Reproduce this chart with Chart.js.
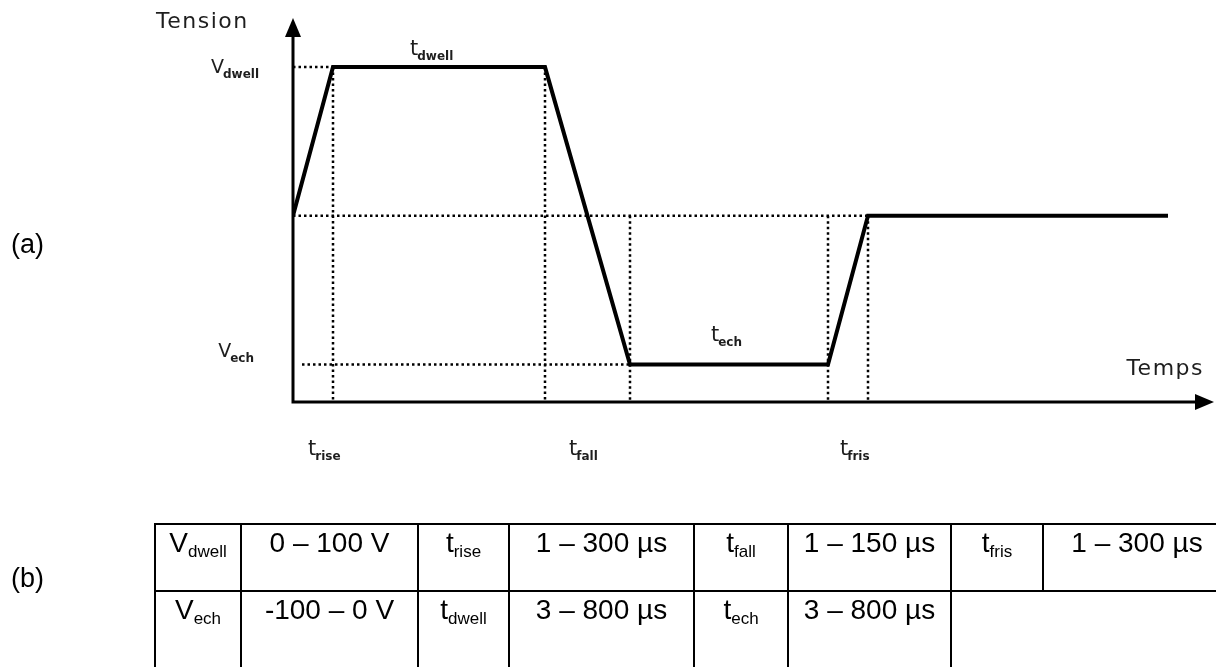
<!DOCTYPE html>
<html>
<head>
<meta charset="utf-8">
<script src="https://cdn.jsdelivr.net/npm/chart.js@4.4.1/dist/chart.umd.min.js"></script>
<style>
    html, body { margin: 0; padding: 0; background: #fff; overflow: hidden; }
    #wrap { position: relative; width: 1216px; height: 667px; overflow: hidden; }
    #wave { position: absolute; left: 0; top: 0; }
    .tag { position: absolute; left: 11px; font: 27px "Liberation Sans", Arial, sans-serif; color: #000; line-height: normal; }
    .cell {
        position: absolute; box-sizing: border-box;
        border: 2px solid #000; text-align: center;
        padding-top: 2px; white-space: nowrap; line-height: normal;
        font: 28px "Liberation Sans", Arial, sans-serif; color: #000;
    }
    .cell.last { border-bottom: none; }
    .cell.blank { border-left: none; border-right: none; border-bottom: none; }
    .cell sub { font-size: 17px; vertical-align: -5px; line-height: 0; }
</style>
</head>
<body>
<div id="wrap">
    <canvas id="wave" width="1216" height="667"></canvas>
    <div class="tag" style="top:229px">(a)</div>
    <div class="tag" style="top:563px">(b)</div>
    <div id="params"></div>
</div>
<script>
/* ======= Data ======= */
// waveform corners (time units, volts)
const waveTime = [0, 4, 25.2, 33.7, 53.5, 57.5, 87.5];
const waveVolt = [0, 100, 100, -100, -100, 0, 0];

// dotted guides: horizontal [from, to, level], vertical [time, top]
const hGuides = [[0, 4, 100], [0, 57.5, 0], [0.9, 33.7, -100]];
const vGuides = [[4, 100], [25.2, 100], [33.7, 0], [53.5, 0], [57.5, 0]];

const timeMax = 92.1;
const voltMin = -125.2;
const voltMax = 133;

// table cells: [main, sub] or plain text
const tableRow1 = [['V', 'dwell'], '0 – 100 V', ['t', 'rise'], '1 – 300 µs', ['t', 'fall'], '1 – 150 µs', ['t', 'fris'], '1 – 300 µs'];
const tableRow2 = [['V', 'ech'], '-100 – 0 V', ['t', 'dwell'], '3 – 800 µs', ['t', 'ech'], '3 – 800 µs'];

/* ======= Table ======= */
const colEdges = [154, 240, 417, 508, 693, 787, 950, 1042, 1230];
const rowEdges = [523, 590, 690];

function cellHtml(c) {
    return Array.isArray(c) ? `${c[0]}<sub>${c[1]}</sub>` : c;
}
function addCell(host, content, c0, c1, r, cls) {
    const d = document.createElement('div');
    d.className = 'cell' + (cls ? ' ' + cls : '');
    d.style.left = colEdges[c0] + 'px';
    d.style.top = rowEdges[r] + 'px';
    d.style.width = (colEdges[c1] - colEdges[c0] + 2) + 'px';
    d.style.height = (rowEdges[r + 1] - rowEdges[r] + 2) + 'px';
    d.innerHTML = content;
    host.appendChild(d);
}
const host = document.getElementById('params');
tableRow1.forEach((c, i) => addCell(host, cellHtml(c), i, i + 1, 0));
tableRow2.forEach((c, i) => addCell(host, cellHtml(c), i, i + 1, 1, 'last'));
addCell(host, '', 6, 8, 1, 'blank');

/* ======= Labels ======= */
const labelFont = '"DejaVu Sans", sans-serif';
// [main, sub, time, volt, align]
const waveLabels = [
    ['Tension', '', -13.7, 126.5, 'left'],
    ['t', 'dwell', 11.7, 108, 'left'],
    ['V', 'dwell', -3.3, 96, 'right'],
    ['V', 'ech', -3.8, -95, 'right'],
    ['t', 'ech', 41.8, -84, 'left'],
    ['Temps', '', 91.1, -107, 'right'],
    ['t', 'rise', 1.5, -161, 'left'],
    ['t', 'fall', 27.6, -161, 'left'],
    ['t', 'fris', 54.7, -161, 'left'],
];

const drawLabels = {
    id: 'drawLabels',
    afterDraw(chart) {
        const ctx = chart.ctx;
        const xs = chart.scales.x, ys = chart.scales.y;
        ctx.save();
        ctx.fillStyle = '#1e1e1e';
        ctx.textBaseline = 'alphabetic';
        ctx.textAlign = 'left';
        waveLabels.forEach(([main, sub, t, v, align]) => {
            const big = sub ? (main === 't' ? '21px ' : '19px ') + labelFont : '22px ' + labelFont;
            const small = 'bold 12px ' + labelFont;
            ctx.letterSpacing = sub ? '0px' : '1.5px';
            ctx.font = big;
            const w1 = ctx.measureText(main).width;
            ctx.letterSpacing = '0px';
            ctx.font = small;
            const w2 = sub ? ctx.measureText(sub).width : 0;
            let x = xs.getPixelForValue(t);
            const y = ys.getPixelForValue(v);
            if (align === 'right') x -= (w1 + w2);
            ctx.letterSpacing = sub ? '0px' : '1.5px';
            ctx.font = big;
            ctx.fillText(main, x, y);
            if (sub) {
                ctx.letterSpacing = '0px';
                ctx.font = small;
                ctx.fillText(sub, x + w1 - 1, y + 5);
            }
        });
        ctx.restore();
    }
};

/* ======= Axes with arrows ======= */
const drawAxes = {
    id: 'drawAxes',
    afterDatasetsDraw(chart) {
        const ctx = chart.ctx;
        const xs = chart.scales.x, ys = chart.scales.y;
        const x0 = xs.getPixelForValue(0);
        const y0 = ys.getPixelForValue(voltMin);
        const xEnd = xs.getPixelForValue(timeMax);
        const yTop = ys.getPixelForValue(voltMax);
        ctx.save();
        ctx.strokeStyle = '#000';
        ctx.fillStyle = '#000';
        ctx.lineWidth = 3;
        ctx.beginPath();
        ctx.moveTo(x0, y0);
        ctx.lineTo(x0, yTop + 16);
        ctx.moveTo(x0 - 1.5, y0);
        ctx.lineTo(xEnd - 16, y0);
        ctx.stroke();
        ctx.beginPath();
        ctx.moveTo(x0, yTop);
        ctx.lineTo(x0 - 8, yTop + 19);
        ctx.lineTo(x0 + 8, yTop + 19);
        ctx.closePath();
        ctx.fill();
        ctx.beginPath();
        ctx.moveTo(xEnd, y0);
        ctx.lineTo(xEnd - 19, y0 - 8);
        ctx.lineTo(xEnd - 19, y0 + 8);
        ctx.closePath();
        ctx.fill();
        ctx.restore();
    }
};

/* ======= Chart ======= */
const guideSets = [];
hGuides.forEach(([a, b, v]) => {
    guideSets.push({ data: [{ x: a, y: v }, { x: b, y: v }] });
});
vGuides.forEach(([t, top]) => {
    guideSets.push({ data: [{ x: t, y: top }, { x: t, y: voltMin }] });
});
guideSets.forEach(ds => {
    Object.assign(ds, {
        borderColor: '#000',
        borderWidth: 2.5,
        borderDash: [2.5, 3],
        pointRadius: 0,
        fill: false,
        order: 2,
    });
});

new Chart(document.getElementById('wave'), {
    type: 'line',
    data: {
        datasets: [
            {
                data: waveTime.map((t, i) => ({ x: t, y: waveVolt[i] })),
                borderColor: '#000',
                borderWidth: 4,
                pointRadius: 0,
                fill: false,
                tension: 0,
                borderJoinStyle: 'miter',
                order: 1,
            },
            ...guideSets,
        ],
    },
    options: {
        responsive: false,
        animation: false,
        events: [],
        layout: {
            padding: { left: 293, right: 2, top: 18, bottom: 265 },
        },
        plugins: {
            legend: { display: false },
            tooltip: { enabled: false },
        },
        scales: {
            x: { type: 'linear', min: 0, max: timeMax, display: false },
            y: { type: 'linear', min: voltMin, max: voltMax, display: false },
        },
    },
    plugins: [drawAxes, drawLabels],
});
</script>
</body>
</html>
